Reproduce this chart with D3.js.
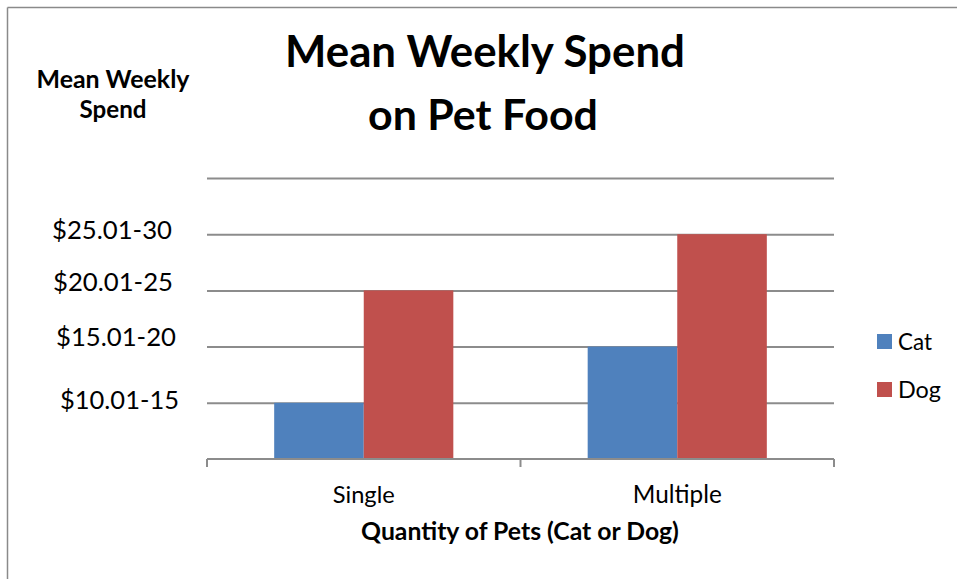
<!DOCTYPE html>
<html><head><meta charset="utf-8">
<script src="https://cdn.jsdelivr.net/npm/d3@7"></script>
<style>
html,body{margin:0;padding:0;background:#fff;}
svg{display:block;font-family:Lato,"Open Sans",sans-serif;}
</style></head>
<body><svg id="c" width="957" height="579"></svg>
<script>
const categories = ["Single", "Multiple"];
const seriesNames = ["Cat", "Dog"];
const catValues = [1, 2];
const dogValues = [3, 4];
const tickValues = [1, 2, 3, 4, 5];
const tickLabels = ["$10.01-15", "$15.01-20", "$20.01-25", "$25.01-30", ""];
const colors = ["#4F81BD", "#C0504D"];

const svg = d3.select("#c");
const W = 957, H = 579;
const plot = {left: 207, right: 834, top: 178, bottom: 459};
// small text offsets of the free-standing value labels (style only)
const labelNudge = [[4.5, 4], [1, -3], [-2, -1], [-3, 3]];

// frame lines (top and left)
svg.append("line").attr("x1", 7.5).attr("x2", W).attr("y1", 7.5).attr("y2", 7.5)
  .attr("stroke", "#8a8a8a").attr("stroke-width", 1.5);
svg.append("line").attr("x1", 7.5).attr("x2", 7.5).attr("y1", 7.5).attr("y2", H)
  .attr("stroke", "#8a8a8a").attr("stroke-width", 1.5);

const y = d3.scaleLinear().domain([0, 5]).range([plot.bottom, plot.top]);
const x = d3.scaleBand().domain(categories).range([plot.left, plot.right]).padding(0);
const xs = d3.scaleBand().domain(seriesNames).range([0, x.bandwidth()]).paddingInner(0).paddingOuter(0.75);

function fit(sel, target) {
  const n = sel.node();
  const s = parseFloat(sel.attr("font-size"));
  const w = n.getComputedTextLength();
  if (w > 0) sel.attr("font-size", (s * target / w).toFixed(2));
  return sel;
}

// gridlines
const yAxis = d3.axisLeft(y).tickValues(tickValues).tickSize(-(plot.right - plot.left)).tickFormat("");
const gy = svg.append("g").attr("transform", `translate(${plot.left},0)`).call(yAxis);
gy.select(".domain").remove();
gy.selectAll(".tick line").attr("stroke", "#8c8c8c").attr("stroke-width", 2);

// y labels
const labelWidths = [119, 120, 120, 120, 0];
svg.append("g").selectAll("text").data(tickValues.slice(0, 4)).join("text")
  .attr("x", (d, i) => 115 + labelNudge[i][0]).attr("y", (d, i) => y(d) + 2 + labelNudge[i][1])
  .attr("text-anchor", "middle").attr("font-size", 26).attr("fill", "#000")
  .text((d, i) => tickLabels[i])
  .each(function(d, i) { fit(d3.select(this), labelWidths[i]); });

// bars
const series = [catValues, dogValues];
series.forEach((vals, si) => {
  svg.append("g").selectAll("rect").data(categories).join("rect")
    .attr("x", (c) => x(c) + xs(seriesNames[si]))
    .attr("width", xs.bandwidth())
    .attr("y", (c, i) => y(vals[i]))
    .attr("height", (c, i) => y(0) - y(vals[i]))
    .attr("fill", colors[si]);
});

// x axis baseline and ticks
const xb = svg.append("g");
xb.append("line").attr("x1", plot.left).attr("x2", plot.right)
  .attr("y1", y(0)).attr("y2", y(0)).attr("stroke", "#8c8c8c").attr("stroke-width", 2);
const bounds = [x(categories[0])].concat(categories.map(c => x(c) + x.bandwidth()));
xb.selectAll(".tk").data(bounds).join("line").attr("class", "tk")
  .attr("x1", d => d).attr("x2", d => d).attr("y1", y(0)).attr("y2", y(0) + 8)
  .attr("stroke", "#8c8c8c").attr("stroke-width", 2);

// category labels
const catW = {"Single": 62, "Multiple": 89};
svg.append("g").selectAll("text").data(categories).join("text")
  .attr("x", c => x(c) + x.bandwidth() / 2).attr("y", 503)
  .attr("text-anchor", "middle").attr("font-size", 26).text(c => c)
  .each(function(c) { fit(d3.select(this), catW[c]); });

// x title
fit(svg.append("text").attr("x", 520).attr("y", 540).attr("text-anchor", "middle")
  .attr("font-size", 23).attr("font-weight", "bold").text("Quantity of Pets (Cat or Dog)"), 318);

// title
fit(svg.append("text").attr("x", 485).attr("y", 67).attr("text-anchor", "middle")
  .attr("font-size", 40).attr("font-weight", "bold").text("Mean Weekly Spend"), 400);
fit(svg.append("text").attr("x", 483).attr("y", 130).attr("text-anchor", "middle")
  .attr("font-size", 40).attr("font-weight", "bold").text("on Pet Food"), 230);

// y title
fit(svg.append("text").attr("x", 113).attr("y", 88).attr("text-anchor", "middle")
  .attr("font-size", 21).attr("font-weight", "bold").text("Mean Weekly"), 153);
fit(svg.append("text").attr("x", 113).attr("y", 118).attr("text-anchor", "middle")
  .attr("font-size", 21).attr("font-weight", "bold").text("Spend"), 67);

// legend
const lg = svg.append("g").selectAll("g").data(seriesNames).join("g")
  .attr("transform", (d, i) => `translate(877,${334 + i * 48})`);
lg.append("rect").attr("width", 15).attr("height", 15).attr("fill", (d, i) => colors[i]);
lg.append("text").attr("x", 21).attr("y", 16).attr("font-size", 25).text(d => d)
  .each(function(d) { fit(d3.select(this), d === "Cat" ? 34 : 43); });
</script>
</body></html>
